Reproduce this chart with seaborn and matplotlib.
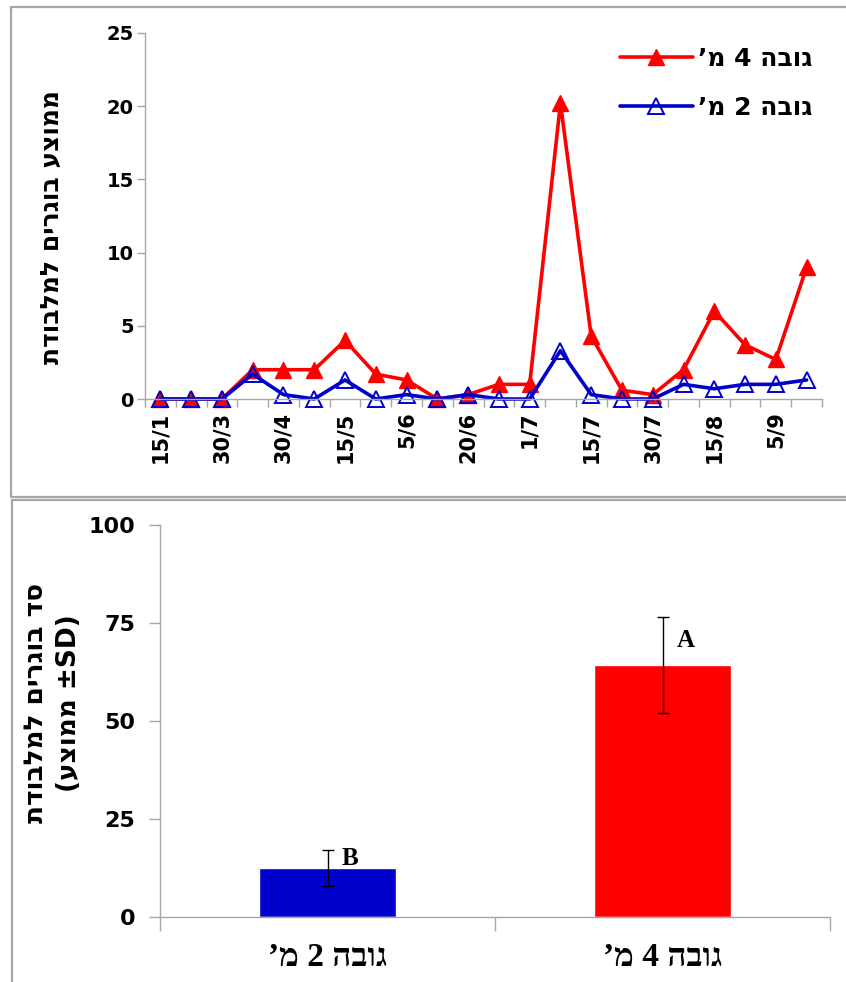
import numpy as np
import pandas as pd
import matplotlib
matplotlib.use("Agg")
import matplotlib.pyplot as plt
from matplotlib.lines import Line2D
import seaborn as sns

# ---- data -------------------------------------------------------------
dates = ["15/1", "", "30/3", "", "30/4", "", "15/5", "", "5/6", "", "20/6", "",
         "1/7", "", "15/7", "", "30/7", "", "15/8", "", "5/9", ""]
height4 = [0, 0, 0, 2, 2, 2, 4, 1.7, 1.3, 0, 0.3, 1, 1, 20.2, 4.3, 0.6, 0.3,
           2, 6, 3.7, 2.7, 9]
height2 = [0, 0, 0, 1.7, 0.3, 0, 1.3, 0, 0.3, 0, 0.3, 0, 0, 3.3, 0.3, 0, 0,
           1, 0.7, 1, 1, 1.3]

groups = ["גובה 2 מ’", "גובה 4 מ’"]
group_mean = [12.5, 64.3]
group_sd = [4.6, 12.3]
group_letter = ["B", "A"]

label_4 = "גובה 4 מ’"
label_2 = "גובה 2 מ’"
ylabel_top = "ממוצע בוגרים למלבודת"
ylabel_bottom = "סד בוגרים למלבודת"
ylabel_bottom_hebrew = "ממוצע"


def rtl(s):
    """Visual (left-to-right) order for a Hebrew string."""
    return s[::-1]


RED = "#ff0000"
BLUE = "#0000cc"
GREY = "#a6a6a6"

sns.set_theme(style="white")
plt.rcParams["font.family"] = ["DejaVu Sans"]
for key in ["text.color", "axes.labelcolor", "xtick.color", "ytick.color"]:
    plt.rcParams[key] = "black"

W, H = 846, 982
fig = plt.figure(figsize=(W / 100, H / 100), dpi=100)


def fx(px):
    return px / W


def fy(py):
    return 1 - py / H


# ---- panel frames -----------------------------------------------------
for (x0, y0, x1, y1) in [(11, 7, 11, 497), (11, 7, W + 5, 7), (11, 497, W + 5, 497),
                         (12, 500, W + 5, 500), (12, 500, 12, H + 5)]:
    fig.add_artist(Line2D([fx(x0), fx(x1)], [fy(y0), fy(y1)], color=GREY,
                          lw=1.6, transform=fig.transFigure))

# ---- top: time series -------------------------------------------------
ax1 = fig.add_axes([fx(145), fy(399), fx(822) - fx(145), fy(33) - fy(399)])
pos = np.arange(len(height4))
sns.lineplot(x=pos, y=height4, ax=ax1, color=RED, linewidth=2.6, marker="^",
             markersize=12, markerfacecolor=RED, markeredgecolor=RED,
             markeredgewidth=1.0)
sns.lineplot(x=pos, y=height2, ax=ax1, color=BLUE, linewidth=2.6, marker="^",
             markersize=12, markerfacecolor="none", markeredgecolor=BLUE,
             markeredgewidth=1.4)
for ln in ax1.lines:
    ln.set_clip_on(False)

ax1.set_xlim(-0.5, len(pos) - 0.5)
ax1.set_ylim(0, 25)
ax1.set_yticks([0, 5, 10, 15, 20, 25])
ax1.set_xticks(pos[::2])
ax1.set_xticklabels([d for d in dates[::2]], rotation=90, fontsize=15,
                    fontweight="bold")
ax1.set_xticks(np.arange(-0.5, len(pos)), minor=True)
ax1.tick_params(axis="x", which="major", length=0, pad=9)
ax1.tick_params(axis="x", which="minor", length=6, width=1, color=GREY,
                direction="out", bottom=True)
ax1.tick_params(axis="y", length=6, width=1, color=GREY, direction="out",
                left=True, pad=2)
for t in ax1.get_yticklabels():
    t.set_fontsize(14)
    t.set_fontweight("bold")
for s in ["top", "right"]:
    ax1.spines[s].set_visible(False)
for s in ["left", "bottom"]:
    ax1.spines[s].set_color(GREY)
    ax1.spines[s].set_linewidth(1)

h4 = Line2D([], [], color=RED, lw=2.6, marker="^", markersize=12,
            markerfacecolor=RED, markeredgecolor=RED)
h2 = Line2D([], [], color=BLUE, lw=2.6, marker="^", markersize=12,
            markerfacecolor="none", markeredgecolor=BLUE, markeredgewidth=1.4)
ax1.legend([h4, h2], [rtl(label_4), rtl(label_2)], loc="upper right",
           bbox_to_anchor=(1.0, 0.99), frameon=False, handlelength=2.9,
           handletextpad=0.2, labelspacing=1.0, borderaxespad=0,
           prop={"family": "DejaVu Sans", "weight": "bold", "size": 18})

fig.text(fx(52), fy(227), rtl(ylabel_top), rotation=90, ha="center",
         va="center", fontsize=18, fontweight="bold")

# ---- bottom: means with SD -------------------------------------------
ax2 = fig.add_axes([fx(160), fy(917), fx(830) - fx(160), fy(525) - fy(917)])
df = pd.DataFrame({"group": groups, "mean": group_mean})
sns.barplot(data=df, x="group", y="mean", hue="group", palette=[BLUE, RED],
            width=0.41, errorbar=None, legend=False, ax=ax2, saturation=1)
ax2.errorbar(np.arange(len(groups)), group_mean, yerr=group_sd, fmt="none",
             ecolor="black", elinewidth=1, capsize=4, capthick=1)
for i, (m, sd, letter) in enumerate(zip(group_mean, group_sd, group_letter)):
    ax2.annotate(letter, xy=(i, m + sd / 2), xytext=(10, 0),
                 textcoords="offset points", ha="left", va="center",
                 fontsize=18, fontweight="bold", family="Liberation Serif")

ax2.set_xlim(-0.5, 1.5)
ax2.set_ylim(0, 100)
ax2.set_yticks([0, 25, 50, 75, 100])
ax2.set_xticks([0, 1])
ax2.set_xticklabels([rtl(g) for g in groups], fontsize=24, fontweight="bold",
                    family=["Liberation Serif", "DejaVu Sans"])
ax2.set_xticks([-0.5, 0.5, 1.5], minor=True)
ax2.tick_params(axis="x", which="major", length=0, pad=18)
ax2.tick_params(axis="x", which="minor", length=10, width=1, color=GREY,
                direction="out", bottom=True)
ax2.tick_params(axis="y", length=8, width=1, color=GREY, direction="out",
                left=True, pad=10)
for t in ax2.get_yticklabels():
    t.set_fontsize(16)
    t.set_fontweight("bold")
ax2.set_xlabel("")
ax2.set_ylabel("")
for s in ["top", "right"]:
    ax2.spines[s].set_visible(False)
for s in ["left", "bottom"]:
    ax2.spines[s].set_color(GREY)
    ax2.spines[s].set_linewidth(1)

fig.text(fx(36), fy(703), rtl(ylabel_bottom), rotation=90, ha="center",
         va="center", fontsize=19, fontweight="bold")
fig.text(fx(69), fy(703), "(" + rtl(ylabel_bottom_hebrew) + " ±SD)",
         rotation=90, ha="center", va="center", fontsize=19,
         fontweight="bold")

fig.savefig("out.png", dpi=100)
